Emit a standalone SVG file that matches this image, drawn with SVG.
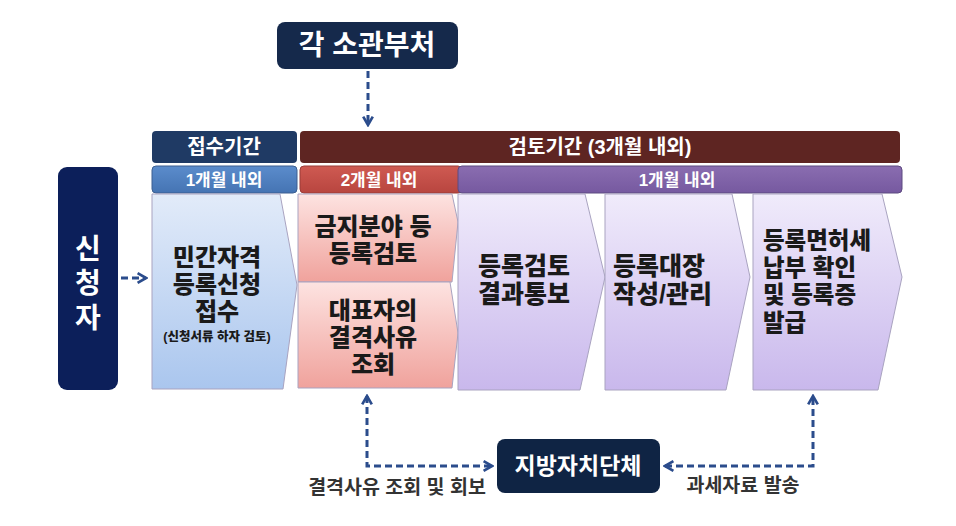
<svg xmlns="http://www.w3.org/2000/svg" width="956" height="526" viewBox="0 0 956 526">
<defs>
<linearGradient id="gBlue" x1="0" y1="0" x2="0" y2="1"><stop offset="0" stop-color="#e2ebf9"/><stop offset="1" stop-color="#aac6ee"/></linearGradient>
<linearGradient id="gRed" x1="0" y1="0" x2="0" y2="1"><stop offset="0" stop-color="#fde3e1"/><stop offset="1" stop-color="#f0a29c"/></linearGradient>
<linearGradient id="gPurple" x1="0" y1="0" x2="0" y2="1"><stop offset="0" stop-color="#f0ebfb"/><stop offset="1" stop-color="#c9b8ec"/></linearGradient>
<linearGradient id="gHBlue" x1="0" y1="0" x2="0" y2="1"><stop offset="0" stop-color="#5b8ccc"/><stop offset="1" stop-color="#4574b3"/></linearGradient>
<linearGradient id="gHRed" x1="0" y1="0" x2="0" y2="1"><stop offset="0" stop-color="#cf5a52"/><stop offset="1" stop-color="#b8453f"/></linearGradient>
<linearGradient id="gHPurple" x1="0" y1="0" x2="0" y2="1"><stop offset="0" stop-color="#8a6db0"/><stop offset="1" stop-color="#7659a0"/></linearGradient>
<marker id="ah" viewBox="0 0 10 10" refX="8" refY="5" markerWidth="4" markerHeight="4" orient="auto-start-reverse" markerUnits="strokeWidth">
<path d="M1,1 L8,5 L1,9" fill="none" stroke="#2b4c8c" stroke-width="2.2"/>
</marker>
</defs>
<style>
text{font-family:"Liberation Sans","Noto Sans CJK KR",sans-serif;font-weight:bold;}
.w{fill:#ffffff;}
.d{fill:#1a1a1a;font-weight:900;}
.g{fill:#333333;}
.c{text-anchor:middle;}
.l{text-anchor:start;}
.big{font-size:24px;}
.hd{font-size:20px;}
.sh{font-size:17px;}
.chev{stroke:#a9a3c0;stroke-width:1;}
.conn{fill:none;stroke:#2b4c8c;stroke-width:3;stroke-dasharray:7 4;}
</style>
<rect width="956" height="526" fill="#ffffff"/>

<g id="ministry">
<rect x="277" y="22" width="181" height="47" rx="8" fill="#15294b"/>
<text class="w c" x="367" y="55" font-size="28">각 소관부처</text>
</g>

<g id="header-reception">
<rect x="152" y="131" width="145" height="32" rx="4" fill="#1f3a64"/>
<text class="w c hd" x="224" y="154">접수기간</text>
</g>
<g id="header-review">
<rect x="300" y="131" width="600" height="32" rx="4" fill="#5e2522"/>
<text class="w c hd" x="600" y="154">검토기간 (3개월 내외)</text>
</g>
<g id="sub-1month-a">
<rect x="152" y="166" width="145" height="27" rx="4" fill="url(#gHBlue)" stroke="#3c5f90" stroke-width="1"/>
<text class="w c sh" x="224" y="186">1개월 내외</text>
</g>
<g id="sub-2month">
<rect x="300" y="166" width="162" height="27" rx="4" fill="url(#gHRed)" stroke="#9a3c38" stroke-width="1"/>
<text class="w c sh" x="379" y="186">2개월 내외</text>
</g>
<g id="sub-1month-b">
<rect x="458" y="166" width="444" height="27" rx="4" fill="url(#gHPurple)" stroke="#5d4a80" stroke-width="1"/>
<text class="w c sh" x="677" y="186">1개월 내외</text>
</g>

<g id="applicant">
<rect x="58" y="167" width="60" height="223" rx="9" fill="#0c1f5a"/>
<text class="w c" x="88" y="259" font-size="28"><tspan x="88">신</tspan><tspan x="88" dy="34">청</tspan><tspan x="88" dy="35">자</tspan></text>
</g>

<g id="reception">
<path class="chev" d="M152,194 L280,194 L297,285 L283,389 L152,389 Z" fill="url(#gBlue)"/>
<text class="d c big" x="217" y="266"><tspan x="217">민간자격</tspan><tspan x="217" dy="27">등록신청</tspan><tspan x="217" dy="27">접수</tspan></text>
<text class="d c" x="217" y="341" font-size="12.5">(신청서류 하자 검토)</text>
</g>

<g id="forbidden-review">
<path class="chev" d="M298,194 L452,194 L458,222 L452,282 L298,282 Z" fill="url(#gRed)"/>
<text class="d c big" x="373" y="235"><tspan x="373">금지분야 등</tspan><tspan x="373" dy="27">등록검토</tspan></text>
</g>
<g id="disqualification">
<path class="chev" d="M298,282 L450,282 L458,333 L452,388 L298,388 Z" fill="url(#gRed)"/>
<text class="d c big" x="373" y="319"><tspan x="373">대표자의</tspan><tspan x="373" dy="27">결격사유</tspan><tspan x="373" dy="27">조회</tspan></text>
</g>

<g id="notify">
<path class="chev" d="M458,194 L585,194 L605,277 L580,390 L458,390 Z" fill="url(#gPurple)"/>
<text class="d c" x="524" y="275" font-size="25"><tspan x="524">등록검토</tspan><tspan x="524" dy="28">결과통보</tspan></text>
</g>
<g id="registry">
<path class="chev" d="M605,194 L732,194 L750,277 L726,390 L605,390 Z" fill="url(#gPurple)"/>
<text class="d l" x="613" y="275" font-size="25"><tspan x="613">등록대장</tspan><tspan x="613" dy="28">작성/관리</tspan></text>
</g>
<g id="issue">
<path class="chev" d="M753,194 L882,194 L902,277 L878,390 L753,390 Z" fill="url(#gPurple)"/>
<text class="d l" x="763" y="249" font-size="23.5"><tspan x="763">등록면허세</tspan><tspan x="763" dy="27">납부 확인</tspan><tspan x="763" dy="27">및 등록증</tspan><tspan x="763" dy="28">발급</tspan></text>
</g>

<g id="local-gov">
<rect x="497" y="439" width="163" height="54" rx="8" fill="#0f2444"/>
<text class="w c" x="578" y="474" font-size="23">지방자치단체</text>
</g>

<g id="connectors">
<line class="conn" x1="368" y1="71" x2="368" y2="125" marker-end="url(#ah)"/>
<line class="conn" x1="121" y1="278" x2="146" y2="278" stroke-dasharray="6 4" marker-end="url(#ah)"/>
<polyline class="conn" points="367,396 367,466 492,466" marker-start="url(#ah)" marker-end="url(#ah)"/>
<polyline class="conn" points="665,466 813,466 813,396" marker-start="url(#ah)" marker-end="url(#ah)"/>
</g>

<g id="labels">
<text class="g c" x="397" y="494" font-size="19.5">결격사유 조회 및 회보</text>
<text class="g c" x="743" y="492" font-size="19.5">과세자료 발송</text>
</g>
</svg>
